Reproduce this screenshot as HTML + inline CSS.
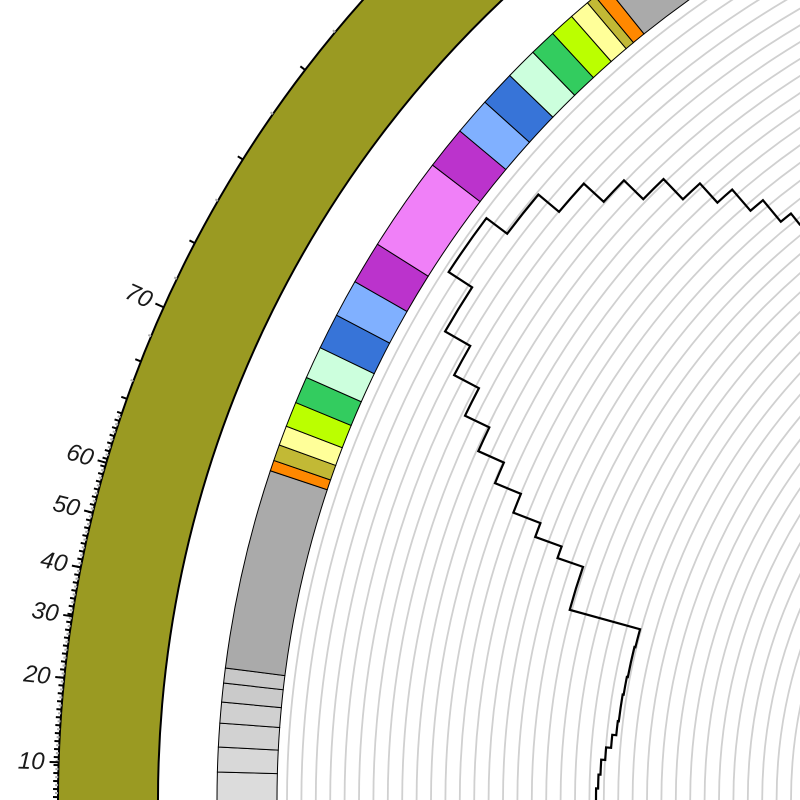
<!DOCTYPE html>
<html><head><meta charset="utf-8"><style>
html,body{margin:0;padding:0;background:#fff;width:800px;height:800px;overflow:hidden;position:relative}
svg{display:block;position:absolute;left:0;top:0;overflow:hidden}
text{font-family:"Liberation Sans",sans-serif;font-style:italic;font-size:24px;fill:#1a1a1a}
</style></head><body>
<svg id="chart" width="800" height="800" viewBox="0 0 800 800" xmlns="http://www.w3.org/2000/svg">
<g id="rings"></g>
<g id="olive"></g>
<g id="ticks"></g>
<g id="segs"></g>
<g id="line"></g>
</svg>
<script>
// ---- data ----
const tickLabels = ["10","20","30","40","50","60","70"];
const labelAngles = [1.8, 5.83, 8.79, 11.16, 13.83, 16.29, 24.2];
const sparseTickAngles = [19.5,20.4,21.4,22.7,25.7,27.6,29.9,32.2,34.8,37.4,39.7,42.5,45.2,48.0,51.0,54.0];
const sparseTickMajor = [1,0,1,0,0,1,0,1,0,1,0,1,0,1,0,1];
const segStarts = [-3,1.54,2.91,4.23,5.39,6.44,7.27,18.4,19.0,19.9,21.0,22.4,23.9,25.7,27.7,29.8,32.2,37.5,39.9,42.0,44.0,45.8,47.3,48.7,49.85,50.4,51.2];
const segEnds   = [1.54,2.91,4.23,5.39,6.44,7.27,18.4,19.0,19.9,21.0,22.4,23.9,25.7,27.7,29.8,32.2,37.5,39.9,42.0,44.0,45.8,47.3,48.7,49.85,50.4,51.2,62];
const segColors = ["#dcdcdc","#d8d8d8","#d2d2d2","#d0d0d0","#cacaca","#c8c8c8","#aaaaaa","#ff8800","#c2b935","#ffff99","#bbff00","#33cc5f","#ccffdd","#3774d8","#80b0ff","#bb33cc","#f080f8","#bb33cc","#80b0ff","#3774d8","#ccffdd","#33cc5f","#bbff00","#ffff99","#c2b935","#ff8800","#aaaaaa"];
const stepAngles = [-2,1,2.2,3.5,4.6,5.75,7,9.4,11,13.75,15.4,19.0,19.95,21.05,22.5,24.05,25.8,27.8,29.9,33.05,36.95,40.0,42.35,44.25,46.15,47.75,49.15,50.35,51.35,53];
const stepValues = [664,662,660,656,651,647,646,645,644,643,716,743,771,800,828,856,883,911,940,968,942,915,888,861,833,807,779,751,737,730];

// ---- geometry ----
const CX=1260, CY=800;
const NS="http://www.w3.org/2000/svg";
const rad=d=>d*Math.PI/180;
function pt(a,r){return [CX-r*Math.cos(rad(a)), CY-r*Math.sin(rad(a))];}
function P(a,r){const p=pt(a,r);return p[0].toFixed(2)+" "+p[1].toFixed(2);}
function sector(a0,a1,r0,r1){
  const lg=(a1-a0)>180?1:0;
  return "M"+P(a0,r1)+" A"+r1+" "+r1+" 0 "+lg+" 1 "+P(a1,r1)+" L"+P(a1,r0)+" A"+r0+" "+r0+" 0 "+lg+" 0 "+P(a0,r0)+" Z";
}
function mk(tag,parent,attrs){const e=document.createElementNS(NS,tag);for(const k in attrs)e.setAttribute(k,attrs[k]);parent.appendChild(e);return e;}

// grid rings
const rings=document.getElementById('rings');
for(let r=973;r>400;r-=14.4){
  const c=mk('circle',rings,{cx:CX,cy:CY,r:r.toFixed(1),fill:"none",stroke:"#d0d0d0","stroke-width":1.8});
  
  
}

// olive track
const olive=document.getElementById('olive');
const ol=mk('path',olive,{d:sector(-5,80,1102,1202),fill:"#9a9a22",stroke:"#000","stroke-width":2});



// ticks
const tg=document.getElementById('ticks');
const RT=1202;
function tick(a,len,color,w){
  const p0=pt(a,RT),p1=pt(a,RT+len);
  const l=mk('line',tg,{x1:p0[0],y1:p0[1],x2:p1[0],y2:p1[1],stroke:color,"stroke-width":w});
  
  
}
let k=0;
for(let a=-1;a<=18.8;a+=0.19){ if(k%2===0) tick(a,5,"#000",2); else tick(a,3,"#aaa",2); k++; }
sparseTickAngles.forEach((a,i)=>{ if(sparseTickMajor[i]) tick(a,6,"#000",2); else tick(a,3,"#aaa",2); });
tickLabels.forEach((t,i)=>{
  const a=labelAngles[i];
  tick(a,9,"#000",2);
  const p=pt(a,1216);
  const tx=mk('text',tg,{x:p[0].toFixed(1),y:p[1].toFixed(1),"text-anchor":"end","dominant-baseline":"central",transform:"rotate("+a+" "+p[0].toFixed(1)+" "+p[1].toFixed(1)+")"});
  tx.textContent=t;
  
  
});

// colored segments
const sg=document.getElementById('segs');
segStarts.forEach((a0,i)=>{
  const s=mk('path',sg,{d:sector(a0,segEnds[i],983,1043),fill:segColors[i],stroke:"#000","stroke-width":1});
  
  
});

// step line
const lg=document.getElementById('line');
let d="";
for(let i=0;i<stepValues.length;i++){
  const a0=stepAngles[i], a1=(i+1<stepAngles.length)?stepAngles[i+1]:a0+2, r=stepValues[i];
  d+=(i===0?"M":"L")+P(a0,r)+" A"+r+" "+r+" 0 0 1 "+P(a1,r)+" ";
}
const ln=mk('path',lg,{d:d,fill:"none",stroke:"#000","stroke-width":2.2,"stroke-linejoin":"miter"});


</script>
</body></html>
